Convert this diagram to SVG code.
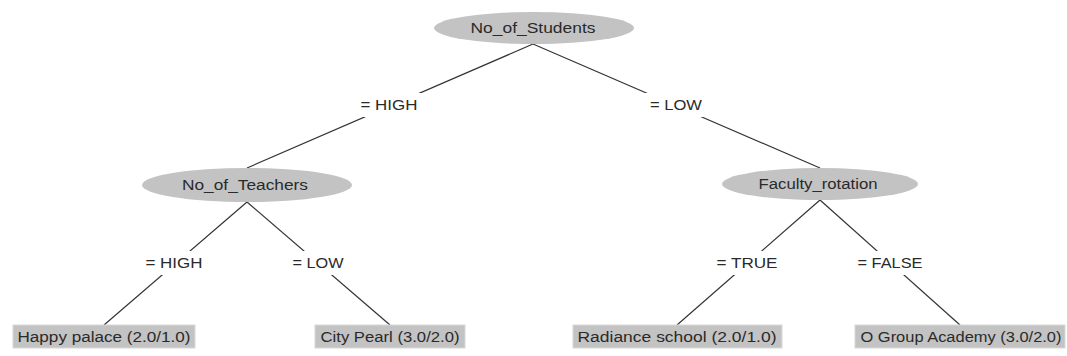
<svg xmlns="http://www.w3.org/2000/svg" width="1067" height="356" viewBox="0 0 1067 356">
<style>
.node{fill:#c3c3c3;stroke:none}
.leaf{fill:#c3c3c3;stroke:#d8d8d8;stroke-width:1}
.t{font-family:"Liberation Sans",Arial,sans-serif;font-size:14px;fill:#2a2a2a;text-anchor:middle;dominant-baseline:central}
.e{stroke:#333;stroke-width:1.2;fill:none}
.lb{fill:#fff}
</style>
<rect width="1067" height="356" fill="#fff"/>
<g id="connectors">
<line class="e" x1="533" y1="44" x2="247" y2="168"/>
<line class="e" x1="533" y1="44" x2="820" y2="168"/>
<line class="e" x1="247" y1="202" x2="104" y2="325"/>
<line class="e" x1="247" y1="202" x2="390" y2="325"/>
<line class="e" x1="820" y1="200" x2="677" y2="325"/>
<line class="e" x1="820" y1="200" x2="960" y2="325"/>
<rect class="lb" x="356" y="93" width="66" height="24"/>
<text class="t" x="389" y="105" textLength="57" lengthAdjust="spacingAndGlyphs">= HIGH</text>
<rect class="lb" x="645" y="93" width="62" height="24"/>
<text class="t" x="676" y="105" textLength="52" lengthAdjust="spacingAndGlyphs">= LOW</text>
<rect class="lb" x="141" y="251" width="66" height="24"/>
<text class="t" x="174" y="263" textLength="57" lengthAdjust="spacingAndGlyphs">= HIGH</text>
<rect class="lb" x="287" y="251" width="62" height="24"/>
<text class="t" x="318" y="263" textLength="51" lengthAdjust="spacingAndGlyphs">= LOW</text>
<rect class="lb" x="712" y="251" width="71" height="24"/>
<text class="t" x="747" y="263" textLength="61" lengthAdjust="spacingAndGlyphs">= TRUE</text>
<rect class="lb" x="853" y="251" width="75" height="24"/>
<text class="t" x="890" y="263" textLength="65" lengthAdjust="spacingAndGlyphs">= FALSE</text>
</g>
<g id="n_students">
<ellipse class="node" cx="534" cy="28" rx="100" ry="16"/>
<text class="t" x="533" y="28" textLength="125" lengthAdjust="spacingAndGlyphs">No_of_Students</text>
</g>
<g id="n_teachers">
<ellipse class="node" cx="247" cy="185" rx="105" ry="17"/>
<text class="t" x="245" y="185" textLength="126" lengthAdjust="spacingAndGlyphs">No_of_Teachers</text>
</g>
<g id="n_faculty">
<ellipse class="node" cx="820" cy="184" rx="98" ry="16"/>
<text class="t" x="818" y="184" textLength="119" lengthAdjust="spacingAndGlyphs">Faculty_rotation</text>
</g>
<g id="l_happy">
<rect class="leaf" x="13" y="325" width="182" height="23"/>
<text class="t" x="104" y="337" textLength="173" lengthAdjust="spacingAndGlyphs">Happy palace (2.0/1.0)</text>
</g>
<g id="l_city">
<rect class="leaf" x="315" y="325" width="150" height="23"/>
<text class="t" x="390" y="337" textLength="139" lengthAdjust="spacingAndGlyphs">City Pearl (3.0/2.0)</text>
</g>
<g id="l_radiance">
<rect class="leaf" x="573" y="325" width="209" height="23"/>
<text class="t" x="677" y="337" textLength="199" lengthAdjust="spacingAndGlyphs">Radiance school (2.0/1.0)</text>
</g>
<g id="l_ogroup">
<rect class="leaf" x="855" y="325" width="210" height="23"/>
<text class="t" x="961" y="337" textLength="201" lengthAdjust="spacingAndGlyphs">O Group Academy (3.0/2.0)</text>
</g>
</svg>
